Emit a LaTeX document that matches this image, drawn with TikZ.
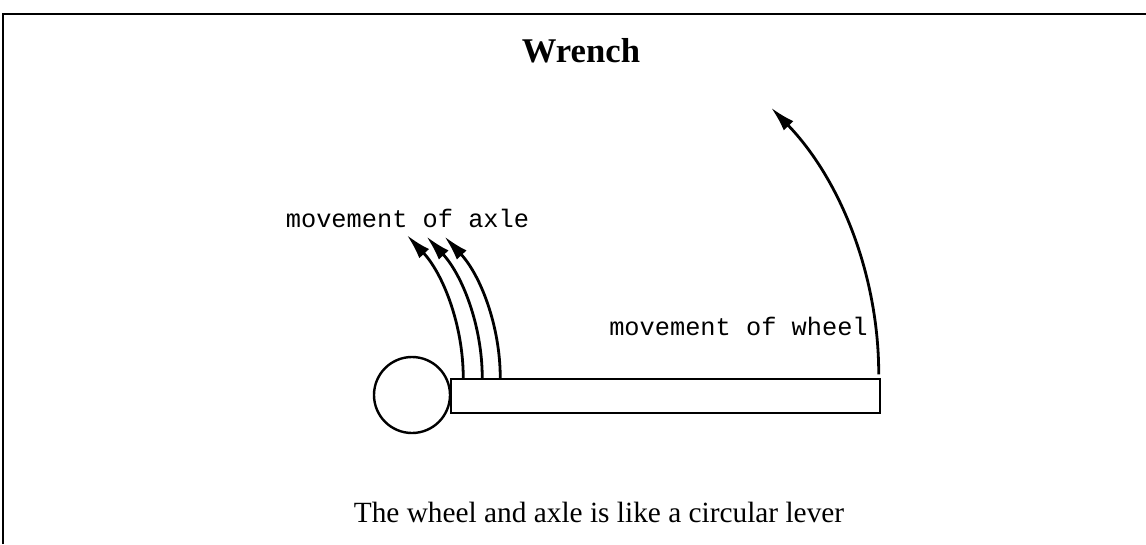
\documentclass[tikz,border=0pt]{standalone}
\usepackage{fontspec}
\setmainfont{Liberation Serif}
\setmonofont{Liberation Mono}
\usetikzlibrary{arrows.meta}

\tikzset{
    movearrow/.style={line width=2.1pt, -{Latex[length=19pt, width=10pt]}},
    monolabel/.style={font=\ttfamily\fontsize{19}{22}\selectfont, anchor=base, inner sep=0pt},
}

\begin{document}
\begin{tikzpicture}[x=0.75pt, y=0.75pt]
    \useasboundingbox (0,0) rectangle (1146,544);

    % Frame (open at right and bottom)
    \draw[line width=1.8pt] (3,0) |- (1146,530);

    % Title
    \node[font=\bfseries\fontsize{26}{30}\selectfont, anchor=base, inner sep=0pt]
        (title) at (581,481) {Wrench};

    % Lever and wheel
    \node[draw, line width=1.1pt, minimum width=321.75pt, minimum height=25.5pt,
        inner sep=0pt] (lever) at (665.5,148) {};
    \node[draw, circle, line width=1.8pt, minimum size=57pt, inner sep=0pt]
        (wheel) at (412,149) {};

    % Movement of axle
    \draw[movearrow] ([xshift=9.75pt]lever.north west)
        arc[start angle=0, end angle=43, radius=157.5pt];
    \draw[movearrow] ([xshift=24pt]lever.north west)
        arc[start angle=0, end angle=43, radius=156pt];
    \draw[movearrow] ([xshift=37.5pt]lever.north west)
        arc[start angle=0, end angle=43, radius=156pt];
    \node[monolabel] (axlelabel) at (407.5,317) {movement of axle};

    % Movement of wheel
    \draw[movearrow] ([xshift=-1.5pt, yshift=3pt]lever.north east)
        arc[start angle=0, end angle=44, radius=288pt];
    \node[monolabel] (wheellabel) at (738.5,209) {movement of wheel};

    % Caption
    \node[font=\fontsize{22}{26}\selectfont, anchor=base, inner sep=0pt]
        (caption) at (599,22) {The wheel and axle is like a circular lever};
\end{tikzpicture}
\end{document}
